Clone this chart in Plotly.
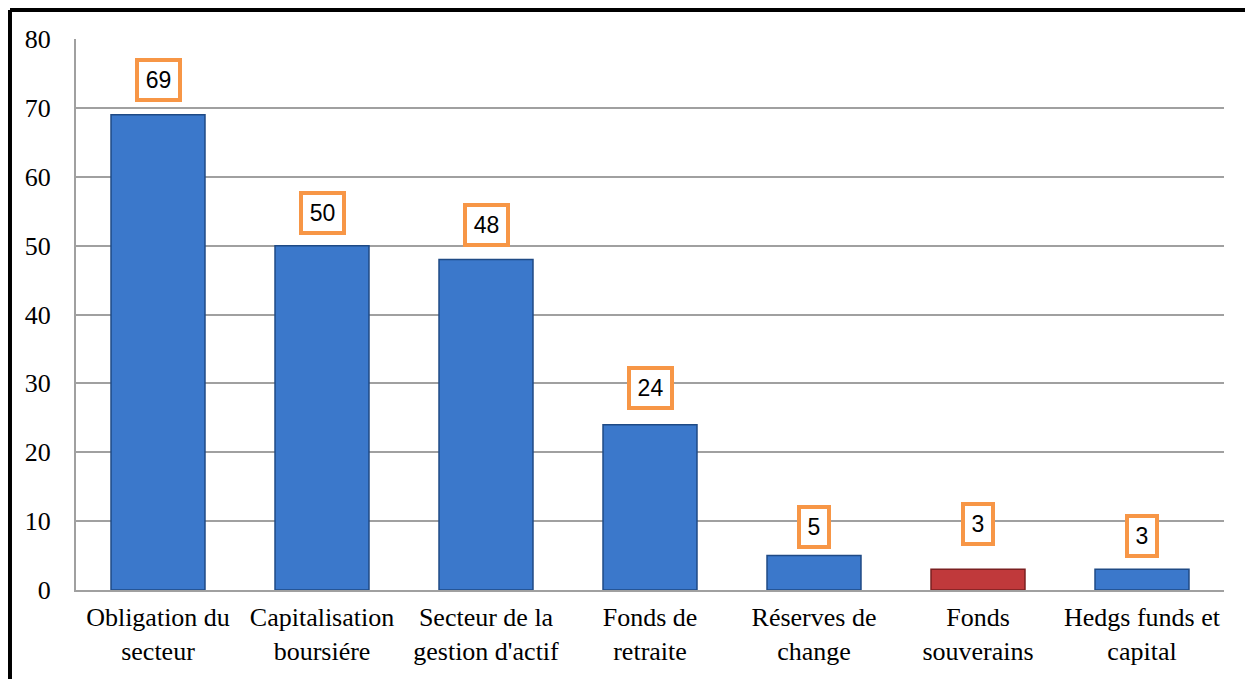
import plotly.graph_objects as go

categories = ["Obligation du<br>secteur", "Capitalisation<br>boursiére", "Secteur de la<br>gestion d'actif",
              "Fonds de<br>retraite", "Réserves de<br>change", "Fonds<br>souverains", "Hedgs funds et<br>capital"]
values = [69, 50, 48, 24, 5, 3, 3]
label_texts = ["69", "50", "48", "24", "5", "3", "3"]

# styling (not data)
bar_colors = ["#3B78CB"] * 7
bar_colors[5] = "#C0393B"
line_colors = ["#1F4A85"] * 7
line_colors[5] = "#7A1F20"
label_yshift = [35, 33, 34, 37, 29, 45, 33]

fig = go.Figure()
fig.add_trace(go.Bar(
    x=categories, y=values, width=0.573,
    marker=dict(color=bar_colors, line=dict(color=line_colors, width=1.5)),
    hoverinfo="skip",
))

for c, v, t, s in zip(categories, values, label_texts, label_yshift):
    fig.add_annotation(x=c, y=v, text=t, showarrow=False, yshift=s,
                       font=dict(family="Liberation Sans", size=23, color="black"),
                       bgcolor="white", bordercolor="#F79646", borderwidth=4, borderpad=4,
                       height=28, width=len(t) * 13 + 5)

# outer frame
fig.add_shape(type="line", xref="paper", yref="paper", x0=-0.0575, x1=-0.0575, y0=1.0526, y1=-0.3,
              line=dict(color="black", width=4))
fig.add_shape(type="line", xref="paper", yref="paper", x0=-0.0575, x1=1.0226, y0=1.0526, y1=1.0526,
              line=dict(color="black", width=4))
fig.add_shape(type="line", xref="paper", yref="paper", x0=1.0226, x1=1.0226, y0=1.0526, y1=-0.3,
              line=dict(color="black", width=2.5))

fig.update_layout(
    width=1245, height=671,
    margin=dict(l=68, r=29, t=31, b=89),
    paper_bgcolor="white", plot_bgcolor="white",
    showlegend=False,
    bargap=0.427,
    font=dict(family="Liberation Serif", size=26, color="black"),
)
fig.update_xaxes(showgrid=False, showline=True, linecolor="#A0A0A0", linewidth=2,
                 tickfont=dict(family="Liberation Serif", size=26, color="black"), ticks="",
                 ticklabelstandoff=3)
fig.update_yaxes(range=[0, 80], dtick=10, showgrid=True, gridcolor="#A0A0A0", gridwidth=2,
                 showline=True, linecolor="#A0A0A0", linewidth=2, zeroline=False,
                 tickfont=dict(family="Liberation Serif", size=26, color="black"), ticks="",
                 ticklabelstandoff=18)

fig.write_html("out.html")
